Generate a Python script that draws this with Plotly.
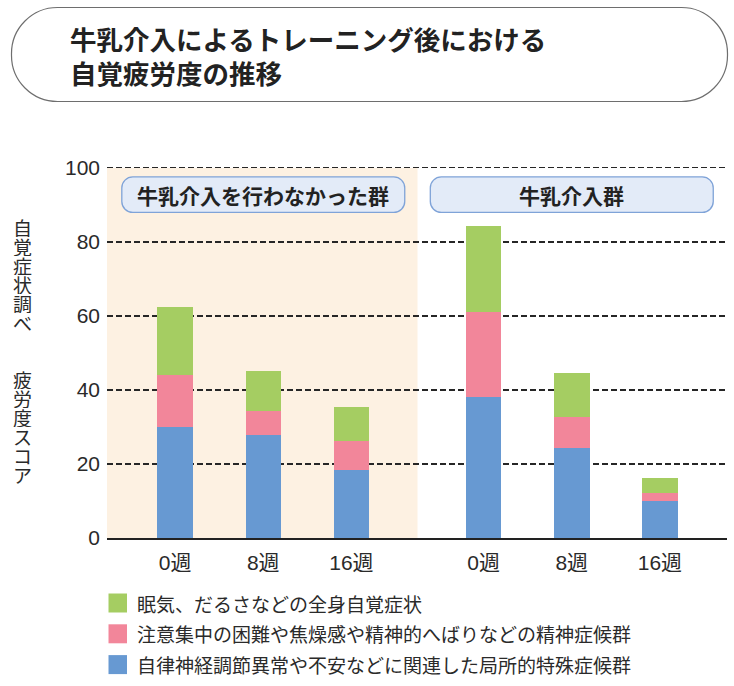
import plotly.graph_objects as go

# ---------------- data ----------------
weeks = ["0週", "8週", "16週"]
groups = ["牛乳介入を行わなかった群", "牛乳介入群"]
x_pos = [0, 1, 2, 3.5, 4.5, 5.5]
tick_text = weeks + weeks

local_syndrome = [30.0, 27.9, 18.5, 38.2, 24.2, 10.1]   # blue
mental_syndrome = [14.1, 6.5, 7.8, 23.0, 8.4, 2.1]      # pink
general_symptom = [18.4, 10.8, 9.0, 23.2, 12.1, 4.1]    # green

series_names = [
    "自律神経調節異常や不安などに関連した局所的特殊症候群",
    "注意集中の困難や焦燥感や精神的へばりなどの精神症候群",
    "眠気、だるさなどの全身自覚症状",
]
series_values = [local_syndrome, mental_syndrome, general_symptom]
series_colors = ["#6799d2", "#f2869a", "#a5cd62"]

title_lines = ["牛乳介入によるトレーニング後における", "自覚疲労度の推移"]
y_title = "自覚症状調べ  疲労度スコア"
y_ticks = [0, 20, 40, 60, 80, 100]

# ---------------- layout geometry ----------------
W, H = 734, 686
L, R, T, B = 107, 7, 168, 148
PW, PH = W - L - R, H - T - B
x_range = [-0.773, 6.261]
y_range = [0, 100]
xs = PW / (x_range[1] - x_range[0])   # px per x unit
ys = PH / (y_range[1] - y_range[0])   # px per y unit

JP = "Noto Sans CJK JP"
NUM = "Liberation Sans, Noto Sans CJK JP"
TXT = "#2a2a2a"
GRID = "#262626"
GDASH = "6px,3px"


def px_to_paper(px, py):
    return (px - L) / PW, (H - B - py) / PH


def rounded_path(x0, x1, y0, y1, rx, ry):
    k = 0.5523
    p = []
    p.append(f"M {x0 + rx},{y1}")
    p.append(f"L {x1 - rx},{y1}")
    p.append(f"C {x1 - rx + k * rx},{y1} {x1},{y1 - ry + k * ry} {x1},{y1 - ry}")
    p.append(f"L {x1},{y0 + ry}")
    p.append(f"C {x1},{y0 + ry - k * ry} {x1 - rx + k * rx},{y0} {x1 - rx},{y0}")
    p.append(f"L {x0 + rx},{y0}")
    p.append(f"C {x0 + rx - k * rx},{y0} {x0},{y0 + ry - k * ry} {x0},{y0 + ry}")
    p.append(f"L {x0},{y1 - ry}")
    p.append(f"C {x0},{y1 - ry + k * ry} {x0 + rx - k * rx},{y1} {x0 + rx},{y1}")
    p.append("Z")
    return " ".join(p)


fig = go.Figure()
for name, vals, col in zip(series_names, series_values, series_colors):
    fig.add_trace(go.Bar(
        x=x_pos, y=vals, name=name, marker=dict(color=col, line=dict(width=0)),
        width=0.403, showlegend=False,
    ))

shapes = []
annotations = []

# beige background for the non-intervention group
shapes.append(dict(type="rect", xref="x", yref="y", x0=x_range[0], x1=(x_pos[2] + x_pos[3]) / 2,
                   y0=0, y1=100, fillcolor="#fdf1e2", line=dict(width=0), layer="below"))

# top gridline at the range maximum (plotly omits the edge gridline)
_, gy = px_to_paper(0, T - 0.5)
shapes.append(dict(type="line", xref="paper", yref="paper", x0=0, x1=1, y0=gy, y1=gy,
                   line=dict(color=GRID, width=1.2, dash=GDASH), layer="above"))

# group label boxes
for gi, gname in enumerate(groups):
    cx = sum(x_pos[gi * 3:gi * 3 + 3]) / 3
    shapes.append(dict(type="path", xref="x", yref="y",
                       path=rounded_path(cx - 1.605, cx + 1.605, 88.0, 97.6, 11 / xs, 11 / ys),
                       fillcolor="#e3ebf8", line=dict(color="#7fa3d8", width=1.3), layer="above"))
    annotations.append(dict(xref="x", yref="y", x=cx, y=92.8, text=f"<b>{gname}</b>", showarrow=False,
                            font=dict(family=JP, size=21, color="#222"), xanchor="center", yanchor="middle"))

# title box (pixel geometry -> paper)
tx0, ty0 = px_to_paper(11.5, 101.5)
tx1, ty1 = px_to_paper(727.5, 7.5)
shapes.append(dict(type="path", xref="paper", yref="paper",
                   path=rounded_path(tx0, tx1, ty0, ty1, 46 / PW, 46 / PH),
                   fillcolor="white", line=dict(color="#6e6e6e", width=1.2)))
for i, line in enumerate(title_lines):
    px, py = px_to_paper(68, 38 + i * 35)
    annotations.append(dict(xref="paper", yref="paper", x=px, y=py, text=f"<b>{line}</b>", showarrow=False,
                            font=dict(family=JP, size=26.5, color="#222"), xanchor="left", yanchor="middle"))

# vertical y-axis title, one glyph per line
for i, ch in enumerate(y_title):
    if ch.strip() == "":
        continue
    px, py = px_to_paper(23, 227.5 + i * 19)
    annotations.append(dict(xref="paper", yref="paper", x=px, y=py, text=ch, showarrow=False, height=19,
                            font=dict(family=JP, size=19, color=TXT), xanchor="center", yanchor="middle"))

# legend (manual, top to bottom: green, pink, blue)
leg_order = [2, 1, 0]
for row, si in enumerate(leg_order):
    cy = 603 + row * 30.8
    sx0, sy0 = px_to_paper(108.5, cy + 9.5)
    sx1, sy1 = px_to_paper(127, cy - 9.5)
    shapes.append(dict(type="rect", xref="paper", yref="paper", x0=sx0, x1=sx1, y0=sy0, y1=sy1,
                       fillcolor=series_colors[si], line=dict(width=0)))
    px, py = px_to_paper(135, cy)
    annotations.append(dict(xref="paper", yref="paper", x=px, y=py, text=series_names[si], showarrow=False,
                            font=dict(family=JP, size=19, color=TXT), xanchor="left", yanchor="middle"))

fig.update_layout(
    width=W, height=H, margin=dict(l=L, r=R, t=T, b=B, pad=0),
    barmode="stack", plot_bgcolor="white", paper_bgcolor="white",
    shapes=shapes, annotations=annotations, bargap=0,
)
fig.update_xaxes(range=x_range, tickvals=x_pos, ticktext=tick_text, showgrid=False, zeroline=False,
                 showline=True, linecolor="#222", linewidth=1.6, ticks="", ticklabelstandoff=5,
                 tickfont=dict(family=NUM, size=21, color=TXT), fixedrange=True)
fig.update_yaxes(range=y_range, tickvals=y_ticks, showgrid=True, gridcolor=GRID, gridwidth=1.2,
                 griddash=GDASH, zeroline=False, showline=False, ticks="", ticklabelstandoff=6,
                 tickfont=dict(family=NUM, size=21, color=TXT), fixedrange=True)

fig.write_html("out.html", config={"displayModeBar": False, "staticPlot": True},
               post_script="document.body.style.margin='0';document.body.style.padding='0';")
